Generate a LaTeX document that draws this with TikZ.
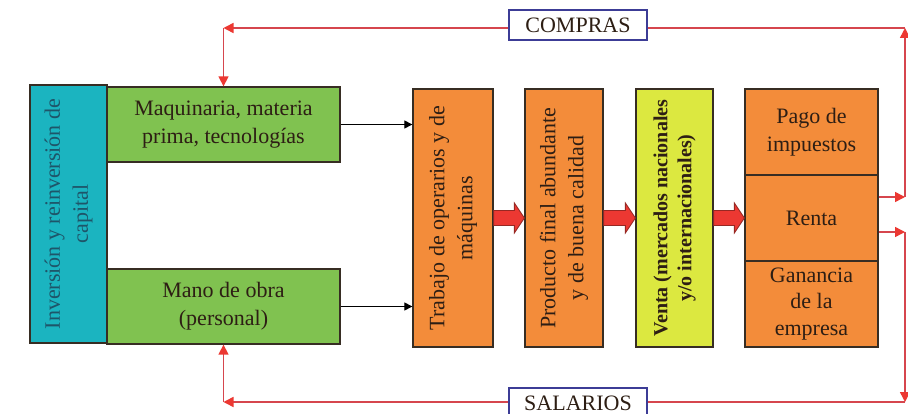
\documentclass[tikz,border=0pt]{standalone}
\usepackage{fontspec}
\setmainfont{Liberation Serif}
\usetikzlibrary{arrows.meta,calc}
\definecolor{cyanb}{RGB}{27,180,192}
\definecolor{greenb}{RGB}{128,194,80}
\definecolor{orangeb}{RGB}{243,140,58}
\definecolor{yellowb}{RGB}{220,232,64}
\definecolor{edge}{RGB}{55,45,35}
\definecolor{txt}{RGB}{45,30,20}
\definecolor{captxt}{RGB}{30,85,105}
\definecolor{lred}{RGB}{214,70,78}
\definecolor{bred}{RGB}{236,56,50}
\definecolor{dred}{RGB}{150,40,35}
\definecolor{lblue}{RGB}{60,60,150}
\newcommand{\blockarr}[2]{%
  \filldraw[fill=bred, draw=dred, line width=0.8pt]
    ($(#1)+(0,-7.5)$) -- ($(#2)+(-10,-7.5)$) -- ($(#2)+(-10,-15)$) -- (#2)
    -- ($(#2)+(-10,15)$) -- ($(#2)+(-10,7.5)$) -- ($(#1)+(0,7.5)$) -- cycle;}
\begin{document}
\begin{tikzpicture}[x=1pt,y=-1pt]
\useasboundingbox (0,0) rectangle (908,414);
\fill[white] (0,0) rectangle (908,414);
\tikzset{
  box/.style={draw=edge, line width=1.3pt, inner sep=0pt, align=center,
    font=\fontsize{22}{28}\selectfont, text=txt},
  vtext/.style={rotate=90, align=center, inner sep=0pt,
    font=\fontsize{22}{28}\selectfont, text=txt},
  lab/.style={draw=lblue, line width=1.2pt, fill=white, inner sep=0pt,
    minimum width=138pt, minimum height=30pt, font=\fontsize{22}{26}\selectfont, text=txt},
  rl/.style={draw=lred, line width=1.5pt},
  ra/.style={rl, -{Triangle[length=10pt,width=10pt,color=bred]}},
  ba/.style={draw=black, line width=1pt, -{Triangle[length=8pt,width=8pt]}}
}
% boxes
\node[box, fill=cyanb, minimum width=77pt, minimum height=258pt] (cap) at (68.5,214) {};
\node[vtext, text=captxt] (capt) at (cap) {Inversión y reinversión de\\capital};
\node[box, fill=greenb, minimum width=233pt, minimum height=75pt] (g1) at (223.5,124.5) {Maquinaria, materia\\prima, tecnologías};
\node[box, fill=greenb, minimum width=233pt, minimum height=75pt] (g2) at (223.5,306.5) {Mano de obra\\(personal)};
\node[box, fill=orangeb, minimum width=80pt, minimum height=258pt] (o1) at (453,218) {};
\node[vtext] (o1t) at (o1) {Trabajo de operarios y de\\máquinas};
\node[box, fill=orangeb, minimum width=78pt, minimum height=258pt] (o2) at (564,218) {};
\node[vtext] (o2t) at (o2) {Producto final abundante\\y de buena calidad};
\node[box, fill=yellowb, minimum width=77pt, minimum height=258pt] (ve) at (674.5,218) {};
\node[vtext, font=\fontsize{20}{24}\selectfont\bfseries] (vet) at (ve) {Venta (mercados nacionales\\y/o internacionales)};
\node[box, fill=orangeb, minimum width=133pt, minimum height=86pt] (pago) at (811.5,132) {Pago de\\impuestos};
\node[box, fill=orangeb, minimum width=133pt, minimum height=86pt] (renta) at (811.5,218) {Renta};
\node[box, fill=orangeb, minimum width=133pt, minimum height=86pt, font=\fontsize{22}{26.5}\selectfont] (gan) at (811.5,304) {Ganancia\\de la\\empresa};
% black arrows
\draw[ba] (g1.east) -- (g1.east -| o1.west);
\draw[ba] (g2.east) -- (g2.east -| o1.west);
% block arrows
\blockarr{o1.east}{o2.west}
\blockarr{o2.east}{ve.west}
\blockarr{ve.east}{renta.west}
% red loops
\coordinate (rr1) at (905,197);
\coordinate (rr2) at (905,232);
\coordinate (ctr) at (905,28);
\coordinate (cbr) at (905,402);
\coordinate (ctl) at (g1.north |- ctr);
\coordinate (cbl) at (g2.south |- cbr);
\draw[ra] (renta.east |- rr1) -- (rr1);
\draw[ra] (rr1) -- (ctr);
\draw[ra] (ctr) -- (ctl);
\draw[ra] (ctl) -- (g1.north);
\draw[ra] (renta.east |- rr2) -- (rr2);
\draw[ra] (rr2) -- (cbr);
\draw[ra] (cbr) -- (cbl);
\draw[ra] (cbl) -- (g2.south);
\node[lab] (compras) at (578,25) {COMPRAS};
\node[lab] (salarios) at (578,403) {SALARIOS};
\end{tikzpicture}
\end{document}
